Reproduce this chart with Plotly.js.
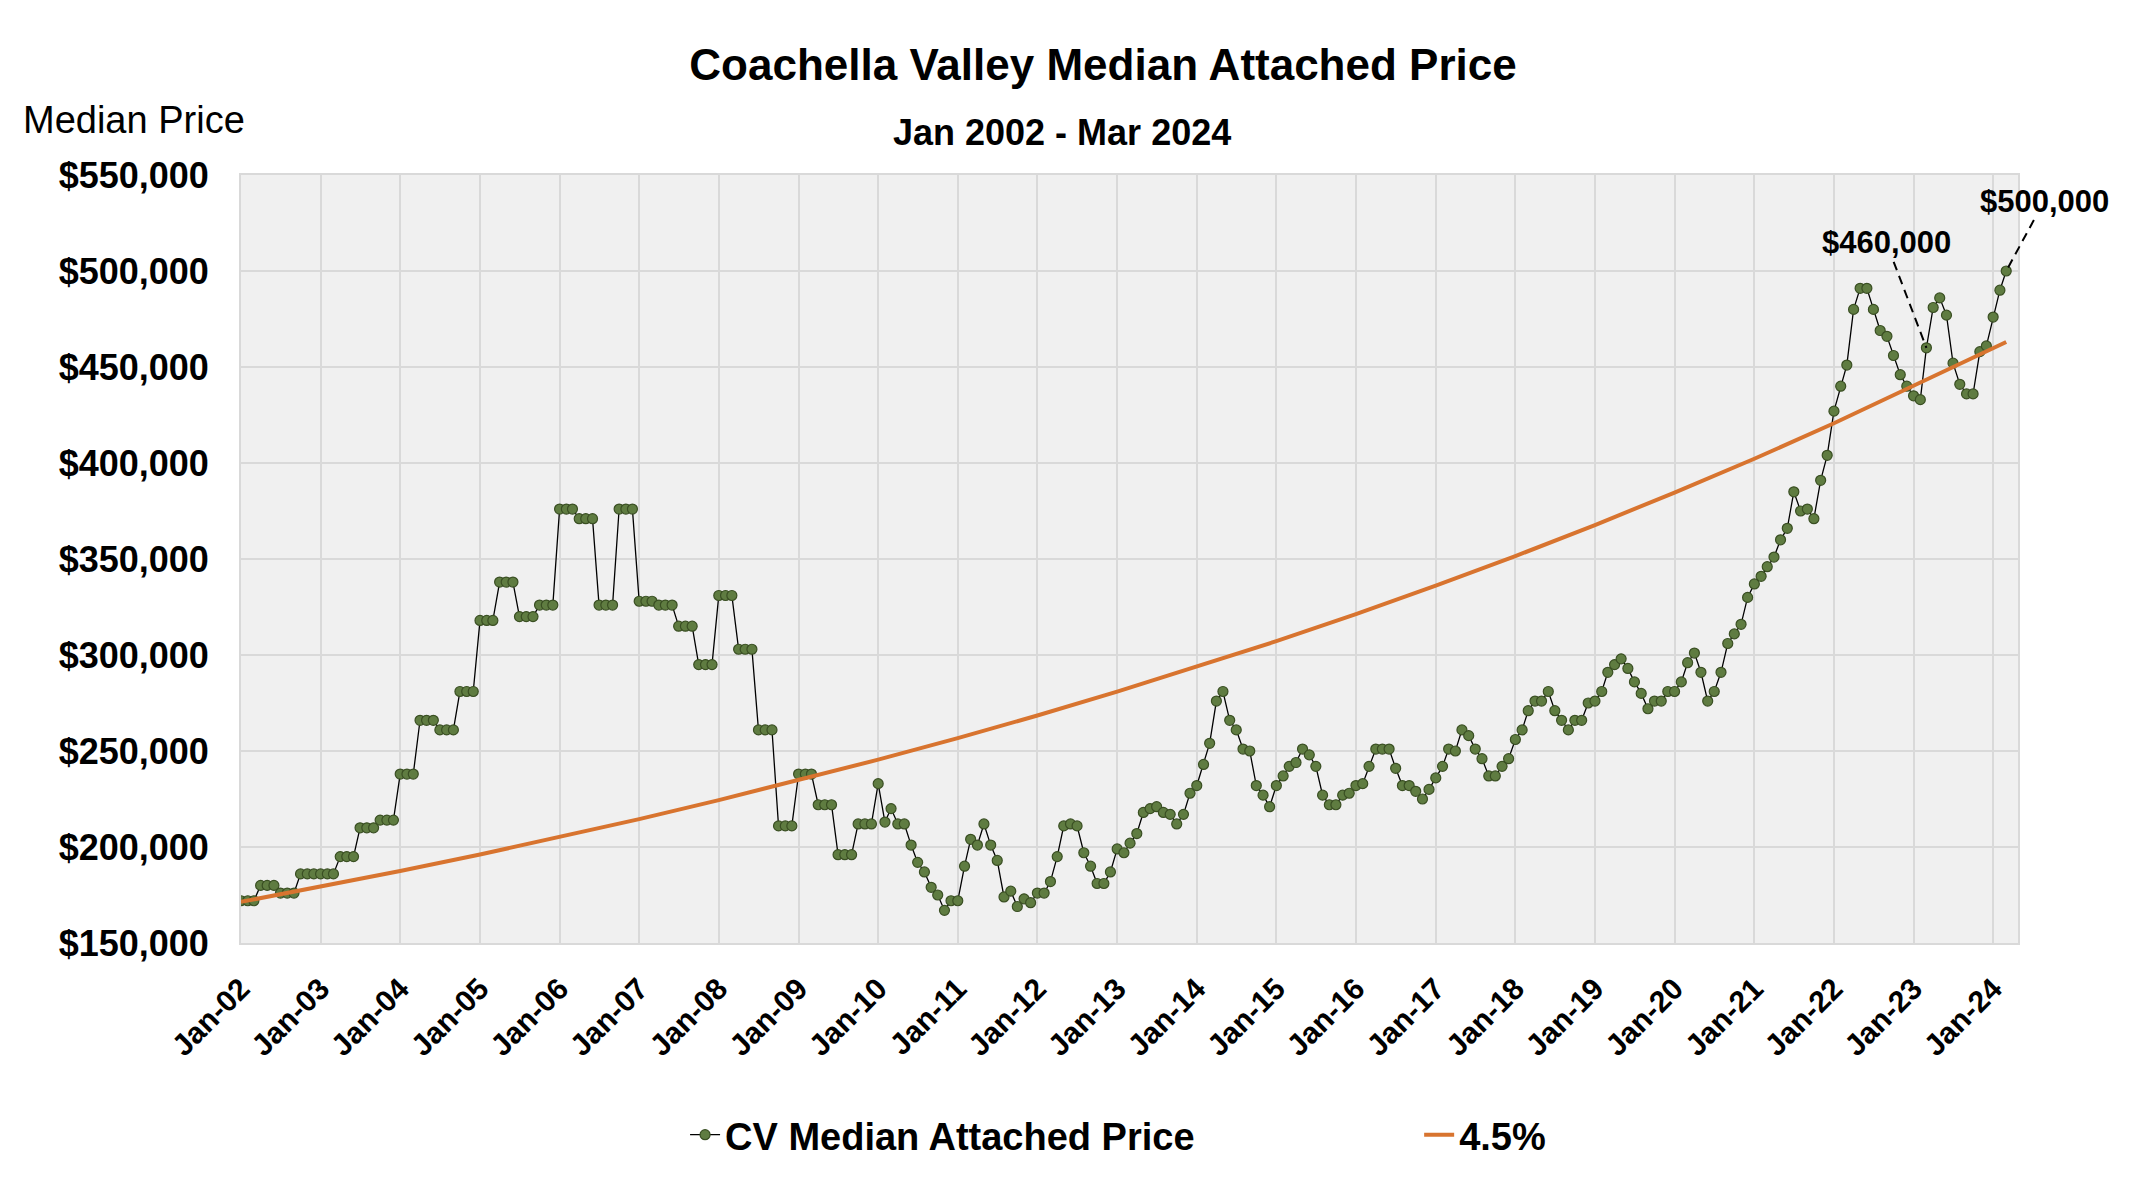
<!DOCTYPE html>
<html>
<head>
<meta charset="utf-8">
<script src="https://cdn.plot.ly/plotly-3.0.1.min.js"></script>
<style>
  html, body { margin: 0; padding: 0; background: #ffffff; }
  #chart { width: 2146px; height: 1182px; }
  /* leader lines of the value labels are dashed in the original */
  .annotation-arrow-g path,
  path.annotation-arrow { stroke-dasharray: 9px 6px !important; }
</style>
</head>
<body>
<div id="chart"></div>
<script>
// median attached price by month, in thousands of dollars
var p2002 = [172, 172, 172, 180, 180, 180, 176, 176, 176, 186, 186, 186];
var p2003 = [186, 186, 186, 195, 195, 195, 210, 210, 210, 214, 214, 214];
var p2004 = [238, 238, 238, 266, 266, 266, 261, 261, 261, 281, 281, 281];
var p2005 = [318, 318, 318, 338, 338, 338, 320, 320, 320, 326, 326, 326];
var p2006 = [376, 376, 376, 371, 371, 371, 326, 326, 326, 376, 376, 376];
var p2007 = [328, 328, 328, 326, 326, 326, 315, 315, 315, 295, 295, 295];
var p2008 = [331, 331, 331, 303, 303, 303, 261, 261, 261, 211, 211, 211];
var p2009 = [238, 238, 238, 222, 222, 222, 196, 196, 196, 212, 212, 212];
var p2010 = [233, 213, 220, 212, 212, 201, 192, 187, 179, 175, 167, 172];
var p2011 = [172, 190, 204, 201, 212, 201, 193, 174, 177, 169, 173, 171];
var p2012 = [176, 176, 182, 195, 211, 212, 211, 197, 190, 181, 181, 187];
var p2013 = [199, 197, 202, 207, 218, 220, 221, 218, 217, 212, 217, 228];
var p2014 = [232, 243, 254, 276, 281, 266, 261, 251, 250, 232, 227, 221];
var p2015 = [232, 237, 242, 244, 251, 248, 242, 227, 222, 222, 227, 228];
var p2016 = [232, 233, 242, 251, 251, 251, 241, 232, 232, 229, 225, 230];
var p2017 = [236, 242, 251, 250, 261, 258, 251, 246, 237, 237, 242, 246];
var p2018 = [256, 261, 271, 276, 276, 281, 271, 266, 261, 266, 266, 275];
var p2019 = [276, 281, 291, 295, 298, 293, 286, 280, 272, 276, 276, 281];
var p2020 = [281, 286, 296, 301, 291, 276, 281, 291, 306, 311, 316, 330];
var p2021 = [337, 341, 346, 351, 360, 366, 385, 375, 376, 371, 391, 404];
var p2022 = [427, 440, 451, 480, 491, 491, 480, 469, 466, 456, 446, 440];
var p2023 = [435, 433, 460, 481, 486, 477, 452, 441, 436, 436, 458, 461];
var p2024 = [476, 490, 500];

var years = [p2002, p2003, p2004, p2005, p2006, p2007, p2008, p2009, p2010, p2011, p2012,
             p2013, p2014, p2015, p2016, p2017, p2018, p2019, p2020, p2021, p2022, p2023, p2024];

// 4.5% reference line, read at each January (plus the last month)
var trendDates = ['2002-01-01', '2003-01-01', '2004-01-01', '2005-01-01', '2006-01-01', '2007-01-01',
                  '2008-01-01', '2009-01-01', '2010-01-01', '2011-01-01', '2012-01-01', '2013-01-01',
                  '2014-01-01', '2015-01-01', '2016-01-01', '2017-01-01', '2018-01-01', '2019-01-01',
                  '2020-01-01', '2021-01-01', '2022-01-01', '2023-01-01', '2024-01-01', '2024-03-01'];
var trendVals = [171.4, 179.3, 187.5, 196.1, 205.1, 214.5, 224.4, 234.7, 245.5, 256.7, 268.5, 280.9,
                 293.8, 307.2, 321.3, 336.1, 351.5, 367.7, 384.6, 402.2, 420.7, 440.0, 459.8, 463.0];

var dates = [];
var prices = [];
years.forEach(function(vals, i) {
  var yr = 2002 + i;
  vals.forEach(function(v, m) {
    dates.push(yr + '-' + (m < 9 ? '0' : '') + (m + 1) + '-01');
    prices.push(v);
  });
});

var fontName = '"Liberation Sans", Arial, sans-serif';

var cv = {
  x: dates,
  y: prices,
  name: 'CV Median Attached Price',
  type: 'scatter',
  mode: 'lines+markers',
  line: { color: '#000000', width: 1.3 },
  marker: { size: 10, color: '#5f7c41', line: { color: '#3a4f23', width: 1.2 } },
  legend: 'legend'
};

var trend = {
  x: trendDates,
  y: trendVals,
  name: '4.5%',
  type: 'scatter',
  mode: 'lines',
  line: { color: '#d8742f', width: 4 },
  legend: 'legend2'
};

var i460 = dates.indexOf('2023-03-01');
var i500 = dates.length - 1;

function money(v) {
  return '$' + v + ',000';
}

var layout = {
  width: 2146,
  height: 1182,
  showlegend: true,
  paper_bgcolor: '#ffffff',
  plot_bgcolor: '#f0f0f0',
  margin: { l: 241, r: 128, t: 175, b: 239, autoexpand: false },
  font: { family: fontName, color: '#000000' },
  title: {
    text: 'Coachella Valley Median Attached Price',
    font: { size: 44, weight: 'bold', family: fontName },
    xref: 'container', x: 0.514, xanchor: 'center',
    yref: 'container', y: 0.945, yanchor: 'middle'
  },
  xaxis: {
    type: 'date',
    range: ['2002-01-01', '2024-04-24'],
    tick0: '2002-01-01',
    dtick: 'M12',
    tickformat: '%b-%y',
    tickangle: -45,
    tickfont: { size: 30, weight: 'bold' },
    ticks: '',
    ticklabelstandoff: 14,
    showgrid: true,
    gridcolor: '#d9d9d9',
    gridwidth: 2,
    showline: true,
    linecolor: '#d9d9d9',
    linewidth: 2,
    mirror: true,
    zeroline: false
  },
  yaxis: {
    range: [150, 550],
    dtick: 50,
    tickprefix: '$',
    ticksuffix: ',000',
    tickfont: { size: 36, weight: 'bold' },
    ticks: '',
    ticklabelstandoff: 23,
    showgrid: true,
    gridcolor: '#d9d9d9',
    gridwidth: 2,
    showline: true,
    linecolor: '#d9d9d9',
    linewidth: 2,
    mirror: true,
    zeroline: false
  },
  legend: {
    orientation: 'h',
    x: 0.2499, xanchor: 'left',
    y: -0.25, yanchor: 'middle',
    font: { size: 38, weight: 'bold' },
    bgcolor: 'rgba(0,0,0,0)'
  },
  legend2: {
    orientation: 'h',
    x: 0.663, xanchor: 'left',
    y: -0.25, yanchor: 'middle',
    font: { size: 38, weight: 'bold' },
    bgcolor: 'rgba(0,0,0,0)'
  },
  annotations: [
    {
      text: 'Jan 2002 - Mar 2024',
      xref: 'paper', x: 0.462, xanchor: 'center',
      yref: 'paper', y: 1.0547, yanchor: 'middle',
      showarrow: false,
      font: { size: 36, weight: 'bold' }
    },
    {
      text: 'Median Price',
      xref: 'paper', x: -0.1238, xanchor: 'left',
      yref: 'paper', y: 1.0716, yanchor: 'middle',
      showarrow: false,
      font: { size: 38 }
    },
    {
      text: money(prices[i460]),
      x: dates[i460], y: prices[i460],
      showarrow: true, arrowhead: 0, arrowwidth: 2, arrowcolor: '#000000',
      ax: -40, ay: -105, standoff: 6,
      font: { size: 31, weight: 'bold' }
    },
    {
      text: money(prices[i500]),
      x: dates[i500], y: prices[i500],
      showarrow: true, arrowhead: 0, arrowwidth: 2, arrowcolor: '#000000',
      ax: 38, ay: -70, standoff: 6,
      font: { size: 31, weight: 'bold' }
    }
  ]
};

Plotly.newPlot('chart', [cv, trend], layout, { displayModeBar: false, staticPlot: true });
</script>
</body>
</html>
